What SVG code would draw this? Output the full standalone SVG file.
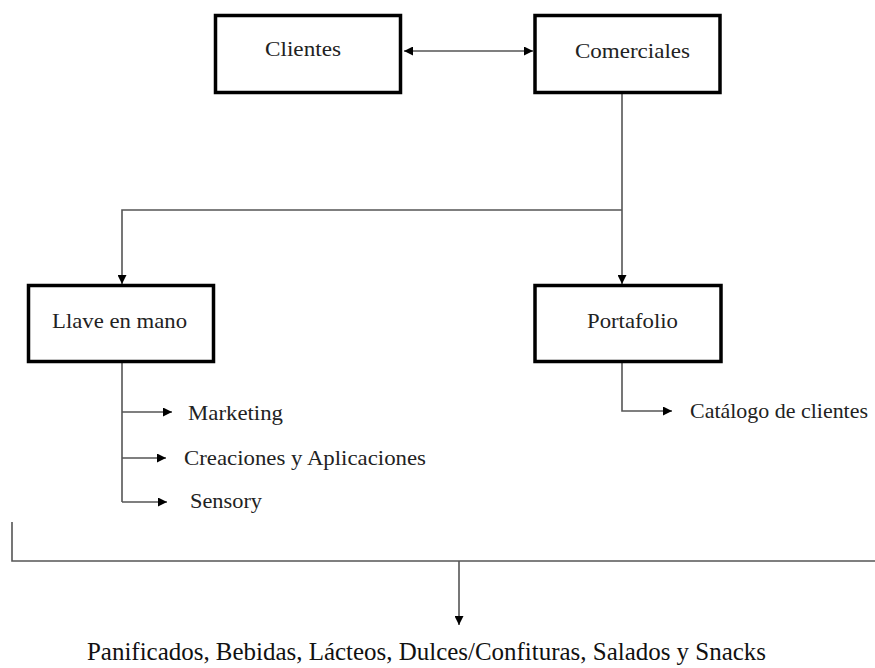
<svg xmlns="http://www.w3.org/2000/svg" width="875" height="668" viewBox="0 0 875 668">
<style>
.box{fill:#fff;stroke:#000;stroke-width:3.5}
.t{font-family:"Liberation Serif","Times New Roman",serif;fill:#222;font-size:22px}
.c{fill:none;stroke:#555;stroke-width:1.6}
</style>
<defs>
<marker id="ah" viewBox="0 0 10 10" refX="10" refY="5" markerWidth="9" markerHeight="9" markerUnits="userSpaceOnUse" orient="auto-start-reverse">
<path d="M0,0 L10,5 L0,10 Z" fill="#000"/>
</marker>
</defs>
<rect width="875" height="668" fill="#fff"/>
<g id="connectors">
<line class="c" x1="404" y1="51" x2="533" y2="51" marker-start="url(#ah)" marker-end="url(#ah)"/>
<line class="c" x1="622" y1="94" x2="622" y2="284" marker-end="url(#ah)"/>
<polyline class="c" points="622,210 122,210 122,284" marker-end="url(#ah)"/>
<line class="c" x1="122" y1="363" x2="122" y2="502"/>
<line class="c" x1="122" y1="412" x2="172" y2="412" marker-end="url(#ah)"/>
<line class="c" x1="122" y1="458" x2="166" y2="458" marker-end="url(#ah)"/>
<line class="c" x1="122" y1="502" x2="167" y2="502" marker-end="url(#ah)"/>
<polyline class="c" points="622,363 622,411 672,411" marker-end="url(#ah)"/>
<polyline class="c" points="12,522 12,561 875,561"/>
<line class="c" x1="459" y1="561" x2="459" y2="625" marker-end="url(#ah)"/>
</g>
<g id="clientes">
<rect class="box" x="215.5" y="15.5" width="185" height="77"/>
<text class="t" x="265" y="56" textLength="76" lengthAdjust="spacingAndGlyphs">Clientes</text>
</g>
<g id="comerciales">
<rect class="box" x="535" y="15.5" width="185" height="77"/>
<text class="t" x="575" y="58" textLength="115" lengthAdjust="spacingAndGlyphs">Comerciales</text>
</g>
<g id="llave">
<rect class="box" x="28.5" y="285.5" width="185" height="76"/>
<text class="t" x="52" y="328" textLength="135" lengthAdjust="spacingAndGlyphs">Llave en mano</text>
</g>
<g id="portafolio">
<rect class="box" x="535" y="285.5" width="186" height="76"/>
<text class="t" x="587" y="328" textLength="91" lengthAdjust="spacingAndGlyphs">Portafolio</text>
</g>
<g id="marketing"><text class="t" x="188" y="420" textLength="95" lengthAdjust="spacingAndGlyphs">Marketing</text></g>
<g id="creaciones"><text class="t" x="184" y="465" textLength="242" lengthAdjust="spacingAndGlyphs">Creaciones y Aplicaciones</text></g>
<g id="sensory"><text class="t" x="190" y="508" textLength="72" lengthAdjust="spacingAndGlyphs">Sensory</text></g>
<g id="catalogo"><text class="t" x="690" y="418" textLength="178" lengthAdjust="spacingAndGlyphs">Catálogo de clientes</text></g>
<g id="productos"><text class="t" x="87" y="660" style="font-size:25px;fill:#111" textLength="679" lengthAdjust="spacingAndGlyphs">Panificados, Bebidas, Lácteos, Dulces/Confituras, Salados y Snacks</text></g>
</svg>
